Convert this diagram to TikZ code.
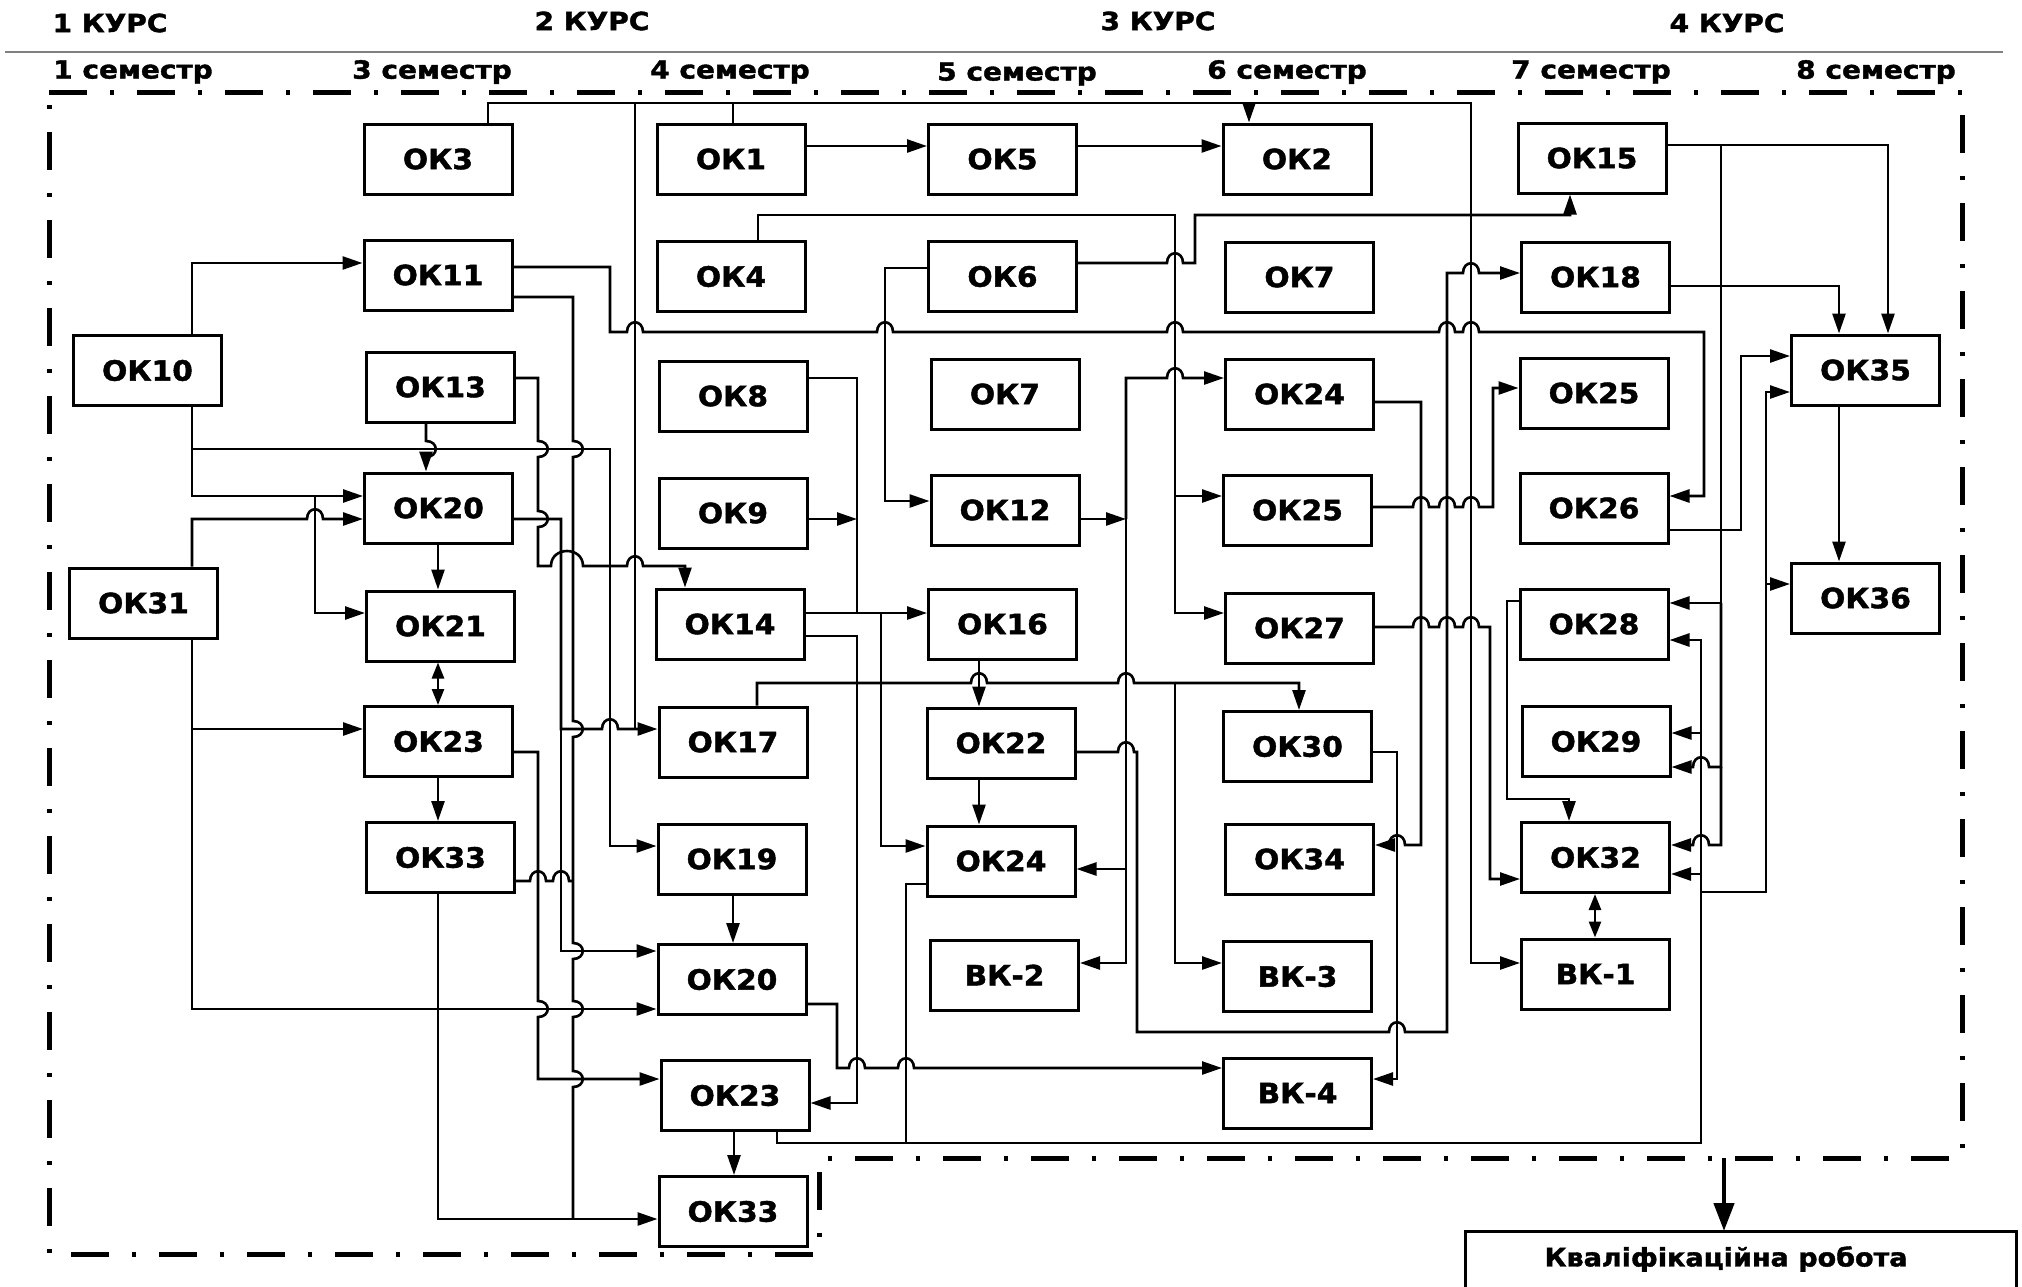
\documentclass[tikz,border=0pt]{standalone}
\usepackage{fontspec}
\setmainfont{DejaVu Sans}
\newfontfamily\boxfont{DejaVu Sans}[BoldFeatures={FakeBold=1.5}, FakeStretch=1.06]
\newfontfamily\hdrfont{DejaVu Sans}[BoldFeatures={FakeBold=1.5}, FakeStretch=1.12]
\usetikzlibrary{arrows.meta}
\newcommand{\JumpR}[2]{-- ({#1-8},#2) .. controls ({#1-8},{#2-13}) and ({#1+8},{#2-13}) .. ({#1+8},#2)}
\newcommand{\JumpL}[2]{-- ({#1+8},#2) .. controls ({#1+8},{#2-13}) and ({#1-8},{#2-13}) .. ({#1-8},#2)}
\newcommand{\JumpD}[2]{-- (#1,{#2-8}) .. controls ({#1+13},{#2-8}) and ({#1+13},{#2+8}) .. (#1,{#2+8})}
\newcommand{\JumpRR}[3]{-- ({#1-10},#3) .. controls ({#1-10},{#3-20}) and ({#2+10},{#3-20}) .. ({#2+10},#3)}
\tikzset{
  box/.style={draw, line width=3pt, minimum width=148pt, minimum height=70pt, inner sep=0pt,
    font=\boxfont\fontsize{28}{32}\selectfont\bfseries},
  con/.style={line width=2.6pt, line join=miter},
  arr/.style={con, -{Triangle[length=20pt,width=13pt]}},
  dbl/.style={con, {Triangle[length=16pt,width=12pt]}-{Triangle[length=16pt,width=12pt]}},
  course/.style={font=\hdrfont\fontsize{25}{28}\selectfont\bfseries, inner sep=0pt},
  sem/.style={font=\hdrfont\fontsize{25}{28}\selectfont\bfseries, inner sep=0pt},
  border/.style={line width=5pt, dash pattern=on 38pt off 23pt on 4pt off 23pt}
}
\begin{document}
\begin{tikzpicture}[x=1pt,y=-1pt]
\fill[white] (0,0) rectangle (2022,1286);
\useasboundingbox (0,0) rectangle (2022,1286);

% headers
\node[course] (c1) at (110,23) {1 КУРС};
\node[course] (c2) at (592,21) {2 КУРС};
\node[course] (c3) at (1158,21) {3 КУРС};
\node[course] (c4) at (1727,23) {4 КУРС};
\draw[gray, line width=1.5pt] (5,52) -- (2003,52);
\node[sem] (s1) at (133,72) {1 семестр};
\node[sem] (s3) at (432,72) {3 семестр};
\node[sem] (s4) at (730,72) {4 семестр};
\node[sem] (s5) at (1017,74) {5 семестр};
\node[sem] (s6) at (1287,72) {6 семестр};
\node[sem] (s7) at (1591,72) {7 семестр};
\node[sem] (s8) at (1876,72) {8 семестр};

\draw[border] (49,92) -- (1962,92) -- (1962,1158) -- (819,1158) -- (819,1254) -- (49,1254) -- cycle;

% boxes
\node[box] (ok10) at (147.5,370.5) {ОК10};
\node[box] (ok31) at (143.5,603) {ОК31};
\node[box] (ok3) at (438,159) {ОК3};
\node[box] (ok11) at (438,275) {ОК11};
\node[box] (ok13) at (440.5,387) {ОК13};
\node[box] (ok20) at (438.5,508) {ОК20};
\node[box] (ok21) at (440.5,626) {ОК21};
\node[box] (ok23) at (438.5,741.5) {ОК23};
\node[box] (ok33) at (440.5,857.5) {ОК33};
\node[box] (ok1) at (731,159) {ОК1};
\node[box] (ok4) at (731,276.5) {ОК4};
\node[box] (ok8) at (733,396) {ОК8};
\node[box] (ok9) at (733,513) {ОК9};
\node[box] (ok14) at (730,624) {ОК14};
\node[box] (ok17) at (733,742) {ОК17};
\node[box] (ok19) at (732,859) {ОК19};
\node[box] (ok20b) at (732,979.5) {ОК20};
\node[box] (ok23b) at (735,1095.5) {ОК23};
\node[box] (ok33b) at (733,1211.5) {ОК33};
\node[box] (ok5) at (1002.5,159) {ОК5};
\node[box] (ok6) at (1002.5,276.5) {ОК6};
\node[box] (ok7) at (1005,394) {ОК7};
\node[box] (ok12) at (1005,510) {ОК12};
\node[box] (ok16) at (1002.5,624) {ОК16};
\node[box] (ok22) at (1001,743) {ОК22};
\node[box] (ok24) at (1001,861) {ОК24};
\node[box] (bk2) at (1004.5,975) {ВК-2};
\node[box] (ok2) at (1297,159) {ОК2};
\node[box] (ok7b) at (1299.5,277) {ОК7};
\node[box] (ok24b) at (1299.5,394) {ОК24};
\node[box] (ok25) at (1297.5,510) {ОК25};
\node[box] (ok27) at (1299.5,628) {ОК27};
\node[box] (ok30) at (1297.5,746.5) {ОК30};
\node[box] (ok34) at (1299.5,859) {ОК34};
\node[box] (bk3) at (1297.5,976.5) {ВК-3};
\node[box] (bk4) at (1297.5,1093) {ВК-4};
\node[box] (ok15) at (1592,158) {ОК15};
\node[box] (ok18) at (1595.5,277) {ОК18};
\node[box] (ok25b) at (1594,393) {ОК25};
\node[box] (ok26) at (1594,508) {ОК26};
\node[box] (ok28) at (1594,624) {ОК28};
\node[box] (ok29) at (1596,741.5) {ОК29};
\node[box] (ok32) at (1595.5,857.5) {ОК32};
\node[box] (bk1) at (1595.5,974) {ВК-1};
\node[box] (ok35) at (1865.5,370) {ОК35};
\node[box] (ok36) at (1865.5,598) {ОК36};

% qualification work
\node[font=\boxfont\fontsize{25.5}{28}\selectfont\bfseries, inner sep=0pt] (qr) at (1726,1259) {Кваліфікаційна робота};
\draw[line width=3pt] (1465,1300) -- (1465,1231) -- (2016,1231) -- (2016,1300);
\coordinate (qtop) at (1724,1231);
\draw[line width=4.5pt, -{Triangle[length=28pt,width=20pt]}] (1724,1158) -- (qtop);

% ---- connectors ----
% OK10
\draw[arr] (192,0 |- ok10.north) -- (192,263) -- (ok11.west |- 0,263);
\draw[arr] (192,0 |- ok10.south) -- (192,496) -- (ok20.west |- 0,496);
\draw[arr] (192,449) -- (610,449) -- (610,846) -- (ok19.west |- 0,846);
\draw[arr] (315,496) -- (315,613) -- (ok21.west |- 0,613);
% OK31
\draw[arr] (192,0 |- ok31.north) -- (192,519) \JumpR{315}{519} -- (ok20.west |- 0,519);
\draw[arr] (192,0 |- ok31.south) -- (192,729) -- (ok23.west |- 0,729);
\draw[arr] (192,729) -- (192,1009) -- (ok20b.west |- 0,1009);
% OK13
\draw[arr] (426,0 |- ok13.south) \JumpD{426}{449} -- (426,0 |- ok20.north);
\draw[arr] (ok13.east |- 0,378) -- (538,378) \JumpD{538}{449} \JumpD{538}{519} -- (538,566) \JumpRR{561}{573}{566} \JumpR{635}{566} -- (685,566) -- (685,0 |- ok14.north);
% OK11
\draw[con] (ok11.east |- 0,297) -- (573,297) \JumpD{573}{449} \JumpD{573}{729} \JumpD{573}{951} \JumpD{573}{1009} \JumpD{573}{1079} -- (573,1219);
\draw[arr] (ok11.east |- 0,267) -- (610,267) -- (610,332) \JumpR{635}{332} \JumpR{885}{332} \JumpR{1175}{332} \JumpR{1447}{332} \JumpR{1471}{332} -- (1704,332) -- (1704,496) -- (ok26.east |- 0,496);
% OK20 (sem 3)
\draw[arr] (ok20.east |- 0,519) -- (561,519) -- (561,729) \JumpR{610}{729} -- (ok17.west |- 0,729);
\draw[arr] (561,729) -- (561,951) -- (ok20b.west |- 0,951);
\draw[arr] (438,0 |- ok20.south) -- (438,0 |- ok21.north);
\draw[dbl] (438,0 |- ok21.south) -- (438,0 |- ok23.north);
\draw[arr] (438,0 |- ok23.south) -- (438,0 |- ok33.north);
% OK23 / OK33
\draw[arr] (ok23.east |- 0,752) -- (538,752) \JumpD{538}{1009} -- (538,1079) -- (ok23b.west |- 0,1079);
\draw[arr] (438,0 |- ok33.south) -- (438,1219) -- (ok33b.west |- 0,1219);
\draw[con] (ok33.east |- 0,881) \JumpR{538}{881} \JumpR{561}{881} -- (573,881);
% column 4 semester chain
\draw[arr] (733,0 |- ok19.south) -- (733,0 |- ok20b.north);
\draw[arr] (734,0 |- ok23b.south) -- (734,0 |- ok33b.north);
% top bus
\draw[arr] (488,0 |- ok3.north) -- (488,103) -- (1471,103) -- (1471,963) -- (bk1.west |- 0,963);
\draw[con] (733,0 |- ok1.north) -- (733,103);
\draw[con] (635,103) -- (635,729);
\draw[arr] (1249,103) -- (1249,0 |- ok2.north);
\draw[arr] (ok1.east |- 0,146) -- (ok5.west |- 0,146);
\draw[arr] (ok5.east |- 0,146) -- (ok2.west |- 0,146);
% OK4
\draw[arr] (758,0 |- ok4.north) -- (758,215) -- (1175,215) -- (1175,613) -- (ok27.west |- 0,613);
\draw[arr] (1175,496) -- (ok25.west |- 0,496);
% OK6
\draw[arr] (ok6.west |- 0,268) -- (885,268) -- (885,501) -- (ok12.west |- 0,501);
\draw[arr] (ok6.east |- 0,263) \JumpR{1175}{263} -- (1195,263) -- (1195,215) -- (1570,215) -- (1570,0 |- ok15.south);
% OK8, OK9, OK14
\draw[con] (ok8.east |- 0,378) -- (857,378) -- (857,613);
\draw[arr] (ok9.east |- 0,519) -- (857,519);
\draw[arr] (ok14.east |- 0,613) -- (ok16.west |- 0,613);
\draw[arr] (881,613) -- (881,846) -- (ok24.west |- 0,846);
\draw[arr] (ok14.east |- 0,636) -- (857,636) -- (857,1103) -- (ok23b.east |- 0,1103);
% OK17
\draw[arr] (757,0 |- ok17.north) -- (757,683) \JumpR{979}{683} \JumpR{1126}{683} -- (1299,683) -- (1299,0 |- ok30.north);
\draw[arr] (1175,683) -- (1175,963) -- (bk3.west |- 0,963);
% OK16, OK22
\draw[arr] (979,0 |- ok16.south) -- (979,0 |- ok22.north);
\draw[arr] (979,0 |- ok22.south) -- (979,0 |- ok24.north);
\draw[arr] (ok22.east |- 0,752) \JumpR{1126}{752} -- (1137,752) -- (1137,1032) \JumpR{1397}{1032} -- (1447,1032) -- (1447,273) \JumpR{1471}{273} -- (ok18.west |- 0,273);
% OK12
\draw[arr] (ok12.east |- 0,519) -- (1126,519);
\draw[arr] (1126,519) -- (1126,378) \JumpR{1175}{378} -- (ok24b.west |- 0,378);
\draw[arr] (1126,519) -- (1126,963) -- (bk2.east |- 0,963);
\draw[arr] (1126,869) -- (ok24.east |- 0,869);
% sem 6
\draw[arr] (ok24b.east |- 0,402) -- (1421,402) -- (1421,845) \JumpL{1397}{845} -- (ok34.east |- 0,845);
\draw[arr] (ok25.east |- 0,507) \JumpR{1421}{507} \JumpR{1447}{507} \JumpR{1471}{507} -- (1493,507) -- (1493,388) -- (ok25b.west |- 0,388);
\draw[arr] (ok27.east |- 0,627) \JumpR{1421}{627} \JumpR{1447}{627} \JumpR{1471}{627} -- (1490,627) -- (1490,879) -- (ok32.west |- 0,879);
\draw[arr] (ok30.east |- 0,752) -- (1397,752) -- (1397,1079) -- (bk4.east |- 0,1079);
\draw[arr] (ok20b.east |- 0,1004) -- (837,1004) -- (837,1068) \JumpR{857}{1068} \JumpR{906}{1068} -- (bk4.west |- 0,1068);
% bottom bus
\draw[arr] (777,0 |- ok23b.south) -- (777,1143) -- (1701,1143) -- (1701,640) -- (ok28.east |- 0,640);
\draw[con] (ok24.west |- 0,884) -- (906,884) -- (906,1143);
\draw[arr] (1701,733) -- (ok29.east |- 0,733);
\draw[arr] (1701,874) -- (ok32.east |- 0,874);
\draw[arr] (1701,892) -- (1766,892) -- (1766,392) -- (ok35.west |- 0,392);
\draw[arr] (1766,584) -- (ok36.west |- 0,584);
% sem 7/8
\draw[arr] (ok15.east |- 0,145) -- (1888,145) -- (1888,0 |- ok35.north);
\draw[arr] (1721,145) -- (1721,603) -- (ok28.east |- 0,603);
\draw[arr] (1721,603) -- (1721,767) \JumpL{1701}{767} -- (ok29.east |- 0,767);
\draw[arr] (1721,767) -- (1721,845) \JumpL{1701}{845} -- (ok32.east |- 0,845);
\draw[arr] (ok18.east |- 0,286) -- (1839,286) -- (1839,0 |- ok35.north);
\draw[arr] (ok26.east |- 0,530) -- (1741,530) -- (1741,356) -- (ok35.west |- 0,356);
\draw[arr] (1839,0 |- ok35.south) -- (1839,0 |- ok36.north);
\draw[arr] (ok28.west |- 0,601) -- (1507,601) -- (1507,799) -- (1569,799) -- (1569,0 |- ok32.north);
\draw[dbl] (1595,0 |- ok32.south) -- (1595,0 |- bk1.north);
\end{tikzpicture}
\end{document}
